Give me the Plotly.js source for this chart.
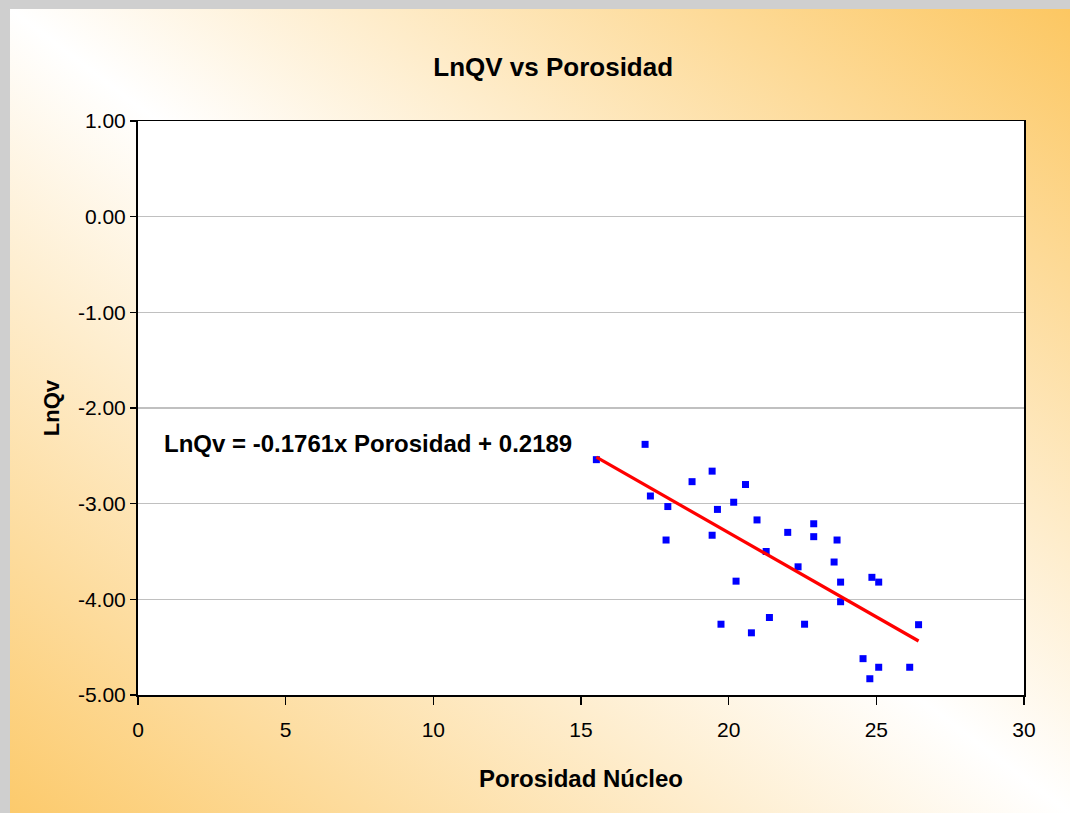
<!DOCTYPE html>
<html>
<head>
<meta charset="utf-8">
<script src="https://cdn.plot.ly/plotly-3.0.1.min.js"></script>
<style>
  html, body { margin: 0; padding: 0; width: 1070px; height: 813px; overflow: hidden; background: #cfcfcf; }
  #bg { position: absolute; left: 10px; top: 9px; width: 1060px; height: 804px;
        background: linear-gradient(to top right, #fcca6c 0%, #ffffff 50%, #fcc762 100%); }
  #chart { position: absolute; left: 0; top: 0; width: 1070px; height: 813px; }
</style>
</head>
<body>
<div id="bg"></div>
<div id="chart"></div>
<script>
// Porosidad Núcleo (x) and LnQv (y)
const porosidad = [15.52, 17.17, 17.35, 17.94, 17.88, 18.76, 19.44, 19.62, 19.44, 20.57,
                   20.17, 20.96, 22.00, 22.88, 22.88, 21.27, 22.35, 20.25, 23.67, 23.57,
                   23.79, 24.85, 25.08, 23.79, 19.74, 20.77, 21.38, 22.57, 26.43, 24.55,
                   25.08, 24.78, 26.13];
const lnQv = [-2.54, -2.38, -2.92, -3.03, -3.38, -2.77, -2.66, -3.06, -3.33, -2.80,
              -2.985, -3.17, -3.30, -3.21, -3.345, -3.50, -3.66, -3.81, -3.38, -3.61,
              -3.82, -3.77, -3.82, -4.025, -4.26, -4.35, -4.19, -4.26, -4.265, -4.62,
              -4.71, -4.83, -4.71];
// Regression coefficients shown on the chart
const slope = -0.1761;
const intercept = 0.2189;
const xTicks = [0, 5, 10, 15, 20, 25, 30];
const yTicks = [1, 0, -1, -2, -3, -4, -5];

const xMin = Math.min(...porosidad), xMax = Math.max(...porosidad);
const fitX = [xMin, xMax];
const fitY = fitX.map(v => slope * v + intercept);

const FONT = 'Liberation Sans, Arial, sans-serif';

const traces = [
  { x: porosidad, y: lnQv, type: 'scatter', mode: 'markers',
    marker: { symbol: 'square', size: 7, color: '#0000ff' }, hoverinfo: 'x+y' },
  { x: fitX, y: fitY, type: 'scatter', mode: 'lines',
    line: { color: '#ff0000', width: 3.2 }, hoverinfo: 'skip' }
];

const layout = {
  width: 1070, height: 813,
  paper_bgcolor: 'rgba(0,0,0,0)',
  plot_bgcolor: '#ffffff',
  showlegend: false,
  margin: { l: 138, r: 46, t: 121, b: 118 },
  font: { family: FONT, color: '#000000' },
  title: { text: '<b>LnQV vs Porosidad</b>', font: { family: FONT, size: 26, color: '#000' },
           x: 0.517, xref: 'container', y: 1 - 67/813, yref: 'container', yanchor: 'middle' },
  xaxis: {
    range: [0, 30], tickvals: xTicks, ticktext: xTicks.map(String),
    showgrid: false, zeroline: false,
    showline: true, linecolor: '#000', linewidth: 1.5, mirror: true,
    ticks: 'outside', ticklen: 8, tickwidth: 1.5, tickcolor: '#000',
    ticklabelstandoff: 7,
    tickfont: { family: FONT, size: 21 },
    title: { text: '<b>Porosidad Núcleo</b>', font: { family: FONT, size: 24 }, standoff: 30 }
  },
  yaxis: {
    range: [-5, 1], tickvals: yTicks, ticktext: yTicks.map(v => v.toFixed(2)),
    showgrid: true, gridcolor: '#c0c0c0', gridwidth: 1.5, zeroline: false,
    showline: true, linecolor: '#000', linewidth: 2, mirror: true,
    ticks: 'outside', ticklen: 6, tickwidth: 1.5, tickcolor: '#000',
    tickfont: { family: FONT, size: 21 },
    title: { text: '<b>LnQv</b>', font: { family: FONT, size: 22 }, standoff: 12 }
  },
  annotations: [{
    text: '<b>LnQv = ' + slope.toFixed(4) + 'x Porosidad + ' + intercept.toFixed(4) + '</b>',
    x: 0.82, y: -2.37, xref: 'x', yref: 'y', xanchor: 'left', yanchor: 'middle',
    showarrow: false, font: { family: FONT, size: 24, color: '#000' }
  }]
};

Plotly.newPlot('chart', traces, layout, { displayModeBar: false, staticPlot: true });
</script>
</body>
</html>
